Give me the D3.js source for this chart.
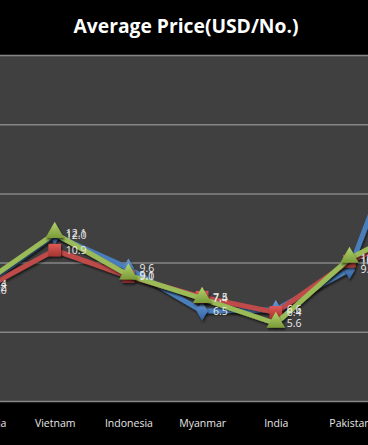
<!DOCTYPE html>
<html><head><meta charset="utf-8">
<script src="https://cdn.jsdelivr.net/npm/d3@7"></script>
<style>html,body{margin:0;padding:0;background:#000;overflow:hidden}</style>
</head><body>
<svg id="chart" width="368" height="445"></svg>
<script>
const categories = ["Cambodia","Vietnam","Indonesia","Myanmar","India","Pakistan","Bangladesh"];
const seriesNames = ["2011","2012","2013"];
const blueValues  = [8.2, 12.0, 9.6, 6.5, 6.6, 9.5, 23.5];
const redValues   = [8.0, 10.9, 9.0, 7.5, 6.4, 10.1, 12.5];
const greenValues = [8.4, 12.1, 9.1, 7.4, 5.6, 10.3, 13.0];
const yTicks = [0, 5, 10, 15, 20, 25];
const title = "Average Price(USD/No.)";

const W = 368, H = 445;
const plot = {top: 55, bottom: 401};
const svg = d3.select("#chart");

svg.append("rect").attr("width", W).attr("height", H).attr("fill", "#000");
svg.append("rect").attr("x", 0).attr("y", plot.top).attr("width", W)
   .attr("height", plot.bottom - plot.top).attr("fill", "#404040");

const x = d3.scalePoint().domain(categories).range([-19, -19 + 6 * 73.7]);
const y = d3.scaleLinear().domain([0, 25]).range([plot.bottom, plot.top]);

// gridlines
const yAxis = d3.axisLeft(y).tickValues(yTicks).tickSize(-W - 20).tickFormat("");
const gy = svg.append("g").attr("transform", "translate(-10,0)").call(yAxis);
gy.select(".domain").remove();
gy.selectAll(".tick line").attr("stroke", "#868686").attr("stroke-width", 1.5);

// x axis labels
const xAxis = d3.axisBottom(x).tickSize(0).tickPadding(0);
const gx = svg.append("g").attr("transform", `translate(0,${plot.bottom})`).call(xAxis);
gx.select(".domain").remove();
gx.selectAll(".tick text").attr("y", 22).attr("dy", "0.35em").attr("fill", "#e6e6e6")
  .attr("font-family", "'Open Sans', sans-serif").attr("font-size", 10.5);

// title
svg.append("text").attr("x", 186).attr("y", 33).attr("text-anchor", "middle")
  .attr("fill", "#fff").attr("font-family", "'Open Sans', sans-serif")
  .attr("font-weight", "bold").attr("font-size", 19.3).text(title);

const defs = svg.append("defs");
function grad(id, c1, c2) {
  const g = defs.append("linearGradient").attr("id", id).attr("x1", 0).attr("y1", 0).attr("x2", 0).attr("y2", 1);
  g.append("stop").attr("offset", "0%").attr("stop-color", c1);
  g.append("stop").attr("offset", "100%").attr("stop-color", c2);
}
grad("gb", "#6d9ad6", "#2f5f9e");
grad("gr", "#e05a56", "#a33431");
grad("gg", "#b3d46c", "#7a9a3a");
const f = defs.append("filter").attr("id", "sh").attr("x", "-50%").attr("y", "-50%").attr("width", "200%").attr("height", "200%");
f.append("feDropShadow").attr("dx", 1).attr("dy", 2).attr("stdDeviation", 1.2).attr("flood-color", "#000").attr("flood-opacity", 0.6);

const series = [
  {name: seriesNames[0], values: blueValues, color: "#4a7ebb", fill: "url(#gb)", sym: d3.symbolDiamond, size: 110, dy: 0},
  {name: seriesNames[1], values: redValues, color: "#be4b48", fill: "url(#gr)", sym: d3.symbolSquare, size: 160, dy: 0},
  {name: seriesNames[2], values: greenValues, color: "#9bbb59", fill: "url(#gg)", sym: d3.symbolTriangle, size: 150, dy: -1}
];

const line = d3.line().x((d, i) => x(categories[i])).y(d => y(d));

series.forEach(s => {
  const g = svg.append("g");
  g.append("path").datum(s.values).attr("d", line).attr("fill", "none")
    .attr("stroke", s.color).attr("stroke-width", 5).attr("stroke-linejoin", "round")
    .attr("filter", "url(#sh)");
  g.selectAll("path.m").data(s.values).join("path").attr("class", "m")
    .attr("d", d3.symbol().type(s.sym).size(s.size))
    .attr("transform", (d, i) => `translate(${x(categories[i])},${y(d) + s.dy})`)
    .attr("fill", s.fill).attr("filter", "url(#sh)");
});

series.forEach(s => {
  svg.append("g").selectAll("text").data(s.values).join("text")
    .attr("x", (d, i) => x(categories[i]) + 11)
    .attr("y", d => y(d)).attr("dy", "0.35em")
    .attr("fill", "#eaeaea").attr("font-family", "'Open Sans', sans-serif").attr("font-size", 10.5)
    .text(d => d.toFixed(1));
});
</script>
</body></html>
